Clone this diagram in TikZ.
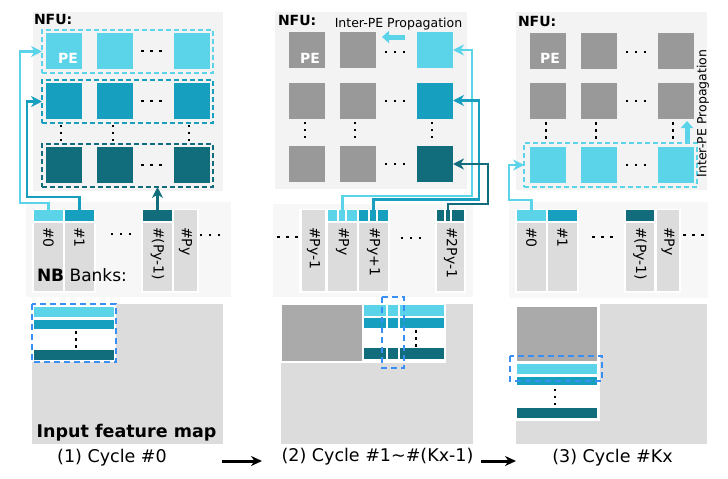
\documentclass[tikz,border=0pt]{standalone}
\usepackage{fontspec}
\setmainfont{DejaVu Sans}
\usetikzlibrary{arrows.meta}
\definecolor{cL}{HTML}{5BD4E9}
\definecolor{cM}{HTML}{169FBF}
\definecolor{cD}{HTML}{116C7B}
\definecolor{peg}{HTML}{999999}
\definecolor{nfubg}{HTML}{F3F3F3}
\definecolor{nbbg}{HTML}{F7F7F7}
\definecolor{colg}{HTML}{DCDCDC}
\definecolor{mapg}{HTML}{DCDCDC}
\definecolor{mapd}{HTML}{AAAAAA}
\definecolor{blueD}{HTML}{3A8FF5}
\newcommand\hdotsq[2]{\foreach \dd in {-9,0,9}{\fill (#1+\dd-1.4,#2-1.4) rectangle ++(2.8,2.8);}}
\newcommand\vdotsq[2]{\foreach \dd in {-7,0,7}{\fill (#1-1.3,#2+\dd-1.3) rectangle ++(2.6,2.6);}}
% name, center x, width, bar colour, label
\newcommand\mybank[5]{%
  \node[fill=#4, minimum width=#3pt, minimum height=11pt] (#1) at (#2,215.5) {};
  \fill[colg] ({#2-#3/2},223) rectangle ({#2+#3/2},291);
  \node[lab] (#1l) at (#2,227) {#5};}
% name, left x, right x, label
\newcommand\greybank[4]{%
  \fill[colg] (#2,210) rectangle (#3,291);
  \node[lab] (#1l) at ({(#2+#3)/2},227) {#4};}
\begin{document}
\begin{tikzpicture}[x=1pt,y=-1pt,
  every node/.style={inner sep=0pt, outer sep=0pt},
  pesq/.style={minimum width=36pt, minimum height=36pt, fill=#1},
  rowbox/.style={draw=#1, dash pattern=on 5pt off 3pt, line width=2pt, minimum width=171pt, minimum height=43pt},
  conn/.style={draw=#1, line width=2.5pt, -{Stealth[length=11pt,width=11pt]}},
  lab/.style={rotate=-90, anchor=west, font=\fontsize{14}{14}\selectfont},
  nfulab/.style={anchor=west, font=\bfseries\fontsize{14}{14}\selectfont},
  pelab/.style={text=white, font=\bfseries\fontsize{14}{14}\selectfont},
  caplab/.style={font=\fontsize{17.5}{17.5}\selectfont},
  bluedash/.style={draw=blueD, line width=2pt, dash pattern=on 6pt off 4pt},
  blockarrow/.style={draw=cL, line width=5pt, -{Triangle[length=7pt,width=12pt]}},
  flow/.style={draw=black, line width=3pt, -{Stealth[length=11pt,width=10pt]}}
]
\useasboundingbox (0,0) rectangle (728,479);

%%%%%%%%%%%%%%%%%%%% Panel 1
\fill[nfubg] (33,12) rectangle (223,191);
\node[nfulab] (nfu1) at (34,19) {NFU:};
\foreach \c/\x in {1/64,2/115,3/192}{
  \node[pesq=cL] (s11\c) at (\x,50.5) {};
  \node[pesq=cM] (s12\c) at (\x,101) {};
  \node[pesq=cD] (s13\c) at (\x,165) {};
}
\node[rowbox=cL] (r11) at (127.5,51.5) {};
\node[rowbox=cM] (r12) at (127.5,101.5) {};
\node[rowbox=cD] (r13) at (127.5,165.5) {};
\node[pelab] (pe1) at (68,58) {PE};
\hdotsq{151.5}{51}\hdotsq{151.5}{101}\hdotsq{151.5}{165}
\vdotsq{61}{133}\vdotsq{113}{133}\vdotsq{189}{133}

\fill[nbbg] (26,202) rectangle (231,297);
\fill[white] (32,209) rectangle (96,293);
\fill[white] (141,209) rectangle (199,293);
\mybank{b10}{48.5}{29}{cL}{\#0}
\mybank{b11}{79.5}{29}{cM}{\#1}
\mybank{b1p}{157.5}{29}{cD}{\#(Py-1)}
\greybank{b1q}{174}{197}{\#Py}
\hdotsq{121}{234}\hdotsq{210}{235}
\node[anchor=west, font=\fontsize{17}{17}\selectfont] (nb1) at (37,275) {\textbf{NB} Banks:};

\coordinate (k1a) at (20,203);
\coordinate (k1b) at (27,197);
\draw[conn=cL] (b10.north) |- (k1a) |- (r11.west);
\draw[conn=cM] (b11.north) |- (k1b) |- (r12.west);
\draw[conn=cD] (b1p.north) -- (b1p.north |- r13.south);

\fill[mapg] (32,304) rectangle (223,444);
\fill[white] (32,304) rectangle (116,362);
\fill[cL] (34,307) rectangle (114,317);
\fill[cM] (34,320) rectangle (114,329);
\fill[cD] (34,350) rectangle (114,360);
\vdotsq{76}{339.5}
\draw[bluedash] (32,304) rectangle (116,362);
\node[font=\bfseries\fontsize{17.5}{17.5}\selectfont] (ifm) at (126.5,433) {Input feature map};
\node[caplab] (cap1) at (112,458) {(1) Cycle \#0};

%%%%%%%%%%%%%%%%%%%% Panel 2
\fill[nfubg] (275,12) rectangle (467,189);
\node[nfulab] (nfu2) at (278,20) {NFU:};
\node[font=\fontsize{12.5}{12.5}\selectfont] (ip2) at (398.5,24) {Inter-PE Propagation};
\foreach \c/\x in {1/306.5,2/357.5}{
  \node[pesq=peg] (s21\c) at (\x,50) {};
  \node[pesq=peg] (s22\c) at (\x,100.5) {};
  \node[pesq=peg] (s23\c) at (\x,164) {};
}
\node[pesq=cL] (s213) at (435,50) {};
\node[pesq=cM] (s223) at (435,100.5) {};
\node[pesq=cD] (s233) at (435,164) {};
\node[pelab] (pe2) at (310,58) {PE};
\hdotsq{395}{52}\hdotsq{395}{101}\hdotsq{395}{164}
\vdotsq{305}{130}\vdotsq{355}{130}\vdotsq{432}{130}
\coordinate (ia2) at (405,37);
\coordinate (ib2) at (382,37);
\draw[blockarrow] (ia2) -- (ib2);

\fill[nbbg] (273,204) rectangle (473,297);
\fill[white] (299,209) rectangle (390,293);
\fill[white] (435,209) rectangle (466,293);
\greybank{b2o}{302}{325}{\#Py-1}
\mybank{b2a}{342.5}{29}{cL}{\#Py}
\mybank{b2b}{373.5}{29}{cM}{\#Py+1}
\mybank{b2c}{450.5}{27}{cD}{\#2Py-1}
\foreach \x in {338,346,369,377,445,451}{\draw[white, line width=1.5pt] (\x,210) -- (\x,221);}
\hdotsq{287.5}{237}\hdotsq{411}{238}

\coordinate (k2a) at (472,196);
\coordinate (k2b) at (479,199.5);
\coordinate (k2c) at (488,204);
\draw[conn=cL] (b2a.north) |- (k2a) |- (s213.east);
\draw[conn=cM] (b2b.north) |- (k2b) |- (s223.east);
\draw[conn=cD] ([xshift=-2.5pt]b2c.north) |- (k2c) |- (s233.east);

\fill[mapg] (281,304) rectangle (473,444);
\fill[white] (281,304) rectangle (446,363);
\fill[mapd] (282,305) rectangle (361.5,361);
\fill[cL] (364,305) rectangle (444,316);
\fill[cM] (364,318) rectangle (444,328);
\fill[cD] (364,348) rectangle (444,359);
\foreach \x in {387,399}{\draw[white, line width=1.5pt] (\x,304) -- (\x,360);}
\vdotsq{416}{338.5}
\draw[bluedash] (382,297) rectangle (404,368);
\node[caplab] (cap2) at (377.5,457) {(2) Cycle \#1\textasciitilde\#(Kx-1)};

%%%%%%%%%%%%%%%%%%%% Panel 3
\fill[nfubg] (516,12) rectangle (707,190);
\node[nfulab] (nfu3) at (518,21) {NFU:};
\foreach \c/\x in {1/547.5,2/598.5,3/675.5}{
  \node[pesq=peg] (s31\c) at (\x,50.5) {};
  \node[pesq=peg] (s32\c) at (\x,101) {};
  \node[pesq=cL] (s33\c) at (\x,165) {};
}
\node[rowbox=cL, minimum width=173pt, minimum height=44pt] (r33) at (610.5,165) {};
\node[pelab] (pe3) at (550,58) {PE};
\hdotsq{636}{52}\hdotsq{636}{101}\hdotsq{636}{165}
\vdotsq{546}{130.5}\vdotsq{596}{130.5}\vdotsq{673}{130.5}
\coordinate (ia3) at (687,142);
\coordinate (ib3) at (687,121);
\draw[blockarrow] (ia3) -- (ib3);
\node[rotate=90, font=\fontsize{12.5}{12.5}\selectfont] (ip3) at (703,113.5) {Inter-PE Propagation};

\fill[nbbg] (509,202) rectangle (708,298);
\fill[white] (515,209) rectangle (579,293);
\fill[white] (624,209) rectangle (681,293);
\mybank{b30}{531.5}{29}{cL}{\#0}
\mybank{b31}{562.5}{29}{cM}{\#1}
\mybank{b3p}{640}{28}{cD}{\#(Py-1)}
\greybank{b3q}{657}{679}{\#Py}
\hdotsq{602.5}{237}\hdotsq{693.5}{235}

\coordinate (k3) at (509,200);
\draw[conn=cL] (b30.north) |- (k3) |- (r33.west);

\fill[mapg] (516,304) rectangle (707,444);
\fill[white] (516,304) rectangle (600,421);
\fill[mapd] (517,307) rectangle (597,361);
\fill[cL] (517,364) rectangle (597,374);
\fill[cM] (517,377) rectangle (597,385);
\fill[cD] (517,408) rectangle (597,418);
\vdotsq{555}{397}
\draw[bluedash] (510,356) rectangle (602,381);
\node[caplab] (cap3) at (612.5,458) {(3) Cycle \#Kx};

%%%%%%%%%%%%%%%%%%%% flow arrows
\coordinate (f1a) at (222,461);
\coordinate (f1b) at (262,461);
\coordinate (f2a) at (481,461);
\coordinate (f2b) at (516,461);
\draw[flow] (f1a) -- (f1b);
\draw[flow] (f2a) -- (f2b);
\end{tikzpicture}
\end{document}
